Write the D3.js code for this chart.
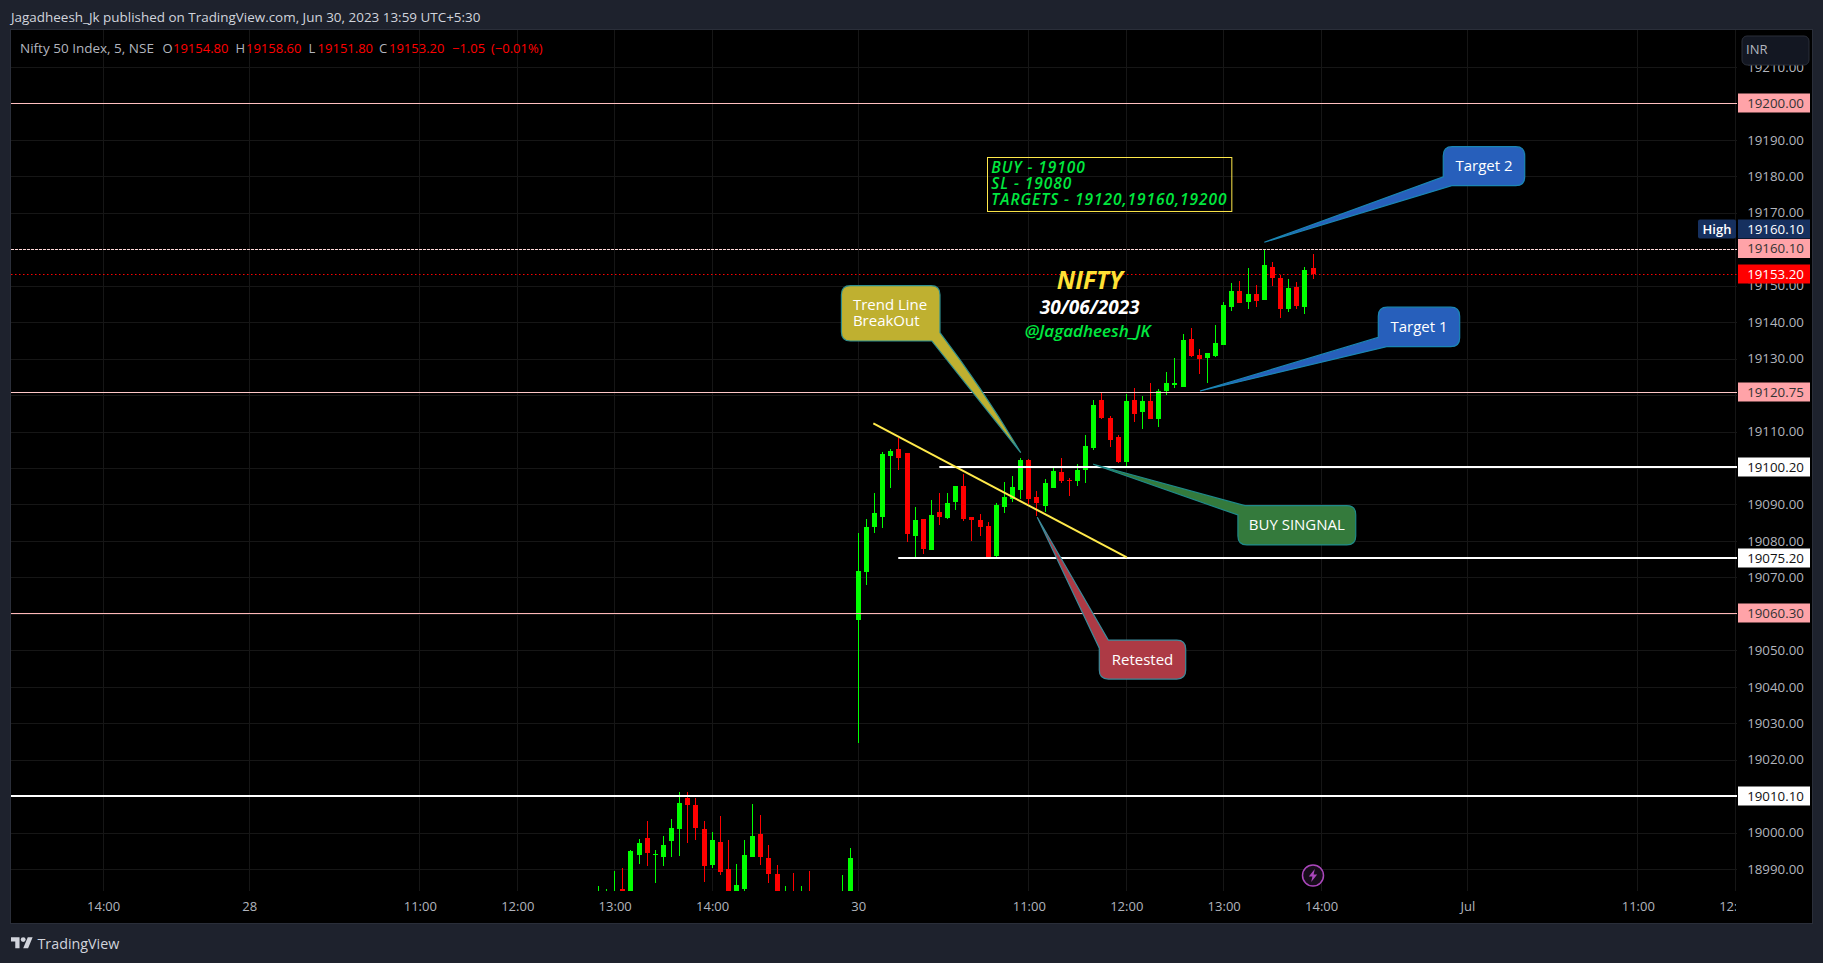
<!DOCTYPE html>
<html>
<head>
<meta charset="utf-8">
<style>
html,body{margin:0;padding:0;background:#1e222d;overflow:hidden}
svg{display:block}
text{font-family:"Open Sans",sans-serif}
</style>
<script src="https://cdnjs.cloudflare.com/ajax/libs/d3/7.8.5/d3.min.js"></script>
</head>
<body>
<svg id="c" width="1823" height="963"></svg>
<script>
// ---------- data: consecutive 5-minute bars, first bar index is firstBar (0 = 30 Jun 09:15) ----------
const firstBar = -32;
const opens = [18980,18979,18975,18984.56,18978,18993.88,18998.54,18993.88,18993.33,18997.72,19001.01,19009.51,19007.59,19001.01,18991.14,18997.45,18990.04,18981,18984.56,18993.33,18999.64,18993.06,18988.67,18979,18983,18978,18982,18980,18979,18979,18978,18980,
19058.3,19071.5,19083.91,19086.66,19103.38,19105.21,19104.1,19081.44,19086.0,19077.61,19087.93,19086.29,19090.77,19095.06,19086.56,19085.74,19084.09,19075.96,19089.3,19091.5,19093.97,19102.19,19092.05,19089.58,19094.51,19098.9,19096.71,19096.43,19099.45,19105.39,19118.65,19113.71,19108.59,19101.74,19118.65,19115.36,19118.37,19113.44,19121.11,19122.76,19122.21,19135.37,19130.98,19130.16,19130.71,19133.73,19144.15,19148.53,19145.52,19147.71,19146.07,19155.11,19152.1,19143.6,19149.63,19144.15,19154.8];
const highs = [18985.38,18984.65,18989.49,18990.32,18995.25,18998.27,19003.2,18995.25,18999.09,19003.75,19011.16,19011.16,19009.51,19003.2,19000.19,19004.57,18997.99,18991.41,18997.99,19007.87,19004.85,18996.62,18991.14,18985.38,18988.95,18985.38,18989.49,18982,18981,18981,18988.4,18995.8,
19082.2,19086,19093.05,19104.48,19105.12,19108.13,19104.1,19089.21,19086.01,19091.22,19093.05,19093.05,19095.06,19098.35,19086.56,19087.39,19085.19,19090.31,19096.16,19097.8,19102.74,19102.47,19093.69,19096.98,19100.55,19102.74,19097.26,19101.1,19109.05,19118.65,19120.75,19114.26,19109.05,19120.29,19121.84,19119.74,19123.22,19121.57,19126.23,19130.16,19136.74,19138.39,19132.63,19131.53,19139.21,19145.52,19150.64,19151.28,19154.84,19150.18,19160.1,19156.49,19152.92,19151.82,19151,19155.11,19158.6];
const lows = [18978,18977,18973,18979,18976,18991.41,18990.86,18986.2,18990.86,18993.33,18993.61,18997.17,18997.99,18986.48,18990.32,18988.4,18978,18979,18983,18993.33,18991.14,18986.2,18978,18977,18976,18976,18975,18976,18975,18974,18976,18978,
19024.6,19067.9,19082.27,19083.64,19094.61,19099.45,19079.8,19075.69,19076.51,19077.61,19084.37,19086,19088.48,19085.56,19080.07,19081.44,19075.32,19075.6,19087.66,19090.77,19091.5,19090.13,19086.84,19087.93,19094.51,19095.89,19092.32,19095.06,19095.89,19104.93,19113.34,19105.85,19101.28,19100.37,19112.7,19110.69,19113.44,19111.33,19120.02,19122.03,19122.21,19130.44,19125.78,19123.31,19130.44,19133.73,19143.05,19145.24,19143.6,19144.15,19146.07,19149.9,19141.13,19142.78,19143.6,19142.23,19151.8];
const closes = [18983,18982,18981,18982,18994.98,18997.17,18994.43,18994.16,18996.62,19001.28,19008.14,19007.59,19001.28,18990.86,18997.99,18989.22,18980,18985.65,18993.88,18999.09,18993.33,18988.67,18980,18982,18979,18981,18978,18977,18976,18977,18982,18993.06,
19071.7,19083.8,19087.66,19103.84,19104.66,19102.83,19081.99,19085.74,19077.88,19087.11,19086.56,19090.4,19095.06,19086.01,19085.74,19083.82,19075.32,19089.85,19092.05,19094.79,19102.19,19091.5,19090.4,19095.89,19099.18,19096.43,19096.43,19099.45,19106.03,19117.28,19113.71,19107.68,19101.74,19118.37,19114.81,19118.37,19113.44,19121.11,19123.31,19123.31,19135.1,19130.71,19129.89,19131.53,19134.28,19144.69,19148.53,19145.24,19147.71,19145.79,19155.66,19152.1,19143.6,19149.36,19144.42,19154.29,19153.2];

const priceTicks = [19210,19190,19180,19170,19160,19150,19140,19130,19120,19110,19100,19090,19080,19070,19060,19050,19040,19030,19020,19010,19000,18990];
const gridPrices = [19210,19200,19190,19180,19170,19160,19150,19140,19130,19120,19110,19100,19090,19080,19070,19060,19050,19040,19030,19020,19010,19000,18990];
const timeTickBars = [-93,-75,-54,-42,-30,-18,0,21,33,45,57,75,96,108];
const timeTickNames = ["14:00","28","11:00","12:00","13:00","14:00","30","11:00","12:00","13:00","14:00","Jul","11:00","12:00"];

const levelNames  = ["r200","r160","r120","r060","w100","w075","w010"];
const levelPrices = [19200,19160.1,19120.75,19060.3,19100.2,19075.2,19010.1];
const levelStarts = [null,null,null,null,9.98,4.92,null];
const trendBars   = [1.85,33.07];
const trendPrices = [19112.2,19075.5];
const noteLines   = ["BUY - 19100","SL - 19080","TARGETS - 19120,19160,19200"];
const legendValues = ["19154.80","19158.60","19151.80","19153.20"];
const legendNames  = ["O","H","L","C"];

// callouts, anchored in bar / price terms
const callouts = [
 {lines:["Trend Line","BreakOut"],x0:-2.08,x1:10.06,p0:19150.0,p1:19134.82,tip:[20.0,19104.2],corner:"BR",bb:9.05,bp:19137.1,fill:"#bfb030",stroke:"#2f8f8f",align:"left"},
 {lines:["BUY SINGNAL"],x0:46.75,x1:61.26,p0:19089.66,p1:19078.9,tip:[28.93,19101.02],corner:"TL",bb:47.62,bp:19087.1,fill:"#347a3c",stroke:"#1f8a8a",align:"middle"},
 {lines:["Retested"],x0:29.68,x1:40.32,p0:19052.8,p1:19042.1,tip:[22.04,19086.5],corner:"TL",bb:30.79,bp:19050.6,fill:"#ad3a45",stroke:"#3c8a9a",align:"middle"},
 {lines:["Target 2"],x0:72.04,x1:82.07,p0:19188.1,p1:19177.4,tip:[50.0,19161.9],corner:"BL",bb:73.08,bp:19179.87,fill:"#275fbb",stroke:"#1b86b4",align:"middle"},
 {lines:["Target 1"],x0:64.04,x1:74.06,p0:19144.1,p1:19133.26,tip:[42.08,19121.1],corner:"BL",bb:65.07,bp:19135.8,fill:"#275fbb",stroke:"#1b86b4",align:"middle"}
];

// ---------- scales ----------
const L=11,R=1737,T=30,B=891,AX=1812,BOT=923;
const x = d3.scaleLinear().domain([0,75]).range([858.3,1467.3]);
const y = d3.scaleLinear().domain([19220.1,18984.0]).range([T,B]);
const cx = b => Math.floor(x(b));
const cy = p => Math.round(y(p));

const svg = d3.select("#c");
const defs = svg.append("defs");
defs.append("clipPath").attr("id","pane").append("rect").attr("x",L).attr("y",T).attr("width",R-L).attr("height",B-T);
defs.append("clipPath").attr("id","timeclip").append("rect").attr("x",L).attr("y",B).attr("width",R-L-1).attr("height",BOT-B);

// frame
svg.append("rect").attr("width",1823).attr("height",963).attr("fill","#1e222d");
svg.append("rect").attr("x",L-0.5).attr("y",T-0.5).attr("width",AX-L+1).attr("height",BOT-T+1).attr("fill","#000").attr("stroke","#2a2e39");

const pane = svg.append("g").attr("clip-path","url(#pane)");

// grid
pane.append("g").selectAll("rect").data(gridPrices).join("rect")
  .attr("x",L).attr("width",R-L).attr("y",d=>cy(d)).attr("height",1).attr("fill","#161616");
pane.append("g").selectAll("rect").data(timeTickBars).join("rect")
  .attr("y",T).attr("height",B-T).attr("x",d=>cx(d)).attr("width",1).attr("fill","#161616");

// candles
const bars = d3.range(opens.length).map(i=>({b:firstBar+i,o:opens[i],h:highs[i],l:lows[i],c:closes[i]}));
const colorOf = d=>d.c>=d.o?"#00ff00":"#ff0000";

// last price line (dotted, below candles)
pane.append("line").attr("x1",L).attr("x2",R).attr("y1",cy(19153.2)+.5).attr("y2",cy(19153.2)+.5)
  .attr("stroke","#ff0000").attr("stroke-dasharray","1.5 2.5");

const cg = pane.append("g");
cg.selectAll("rect.w").data(bars).join("rect").attr("class","w")
  .attr("x",d=>cx(d.b)).attr("width",1)
  .attr("y",d=>cy(d.h)).attr("height",d=>Math.max(1,cy(d.l)-cy(d.h))).attr("fill",colorOf);
cg.selectAll("rect.b").data(bars).join("rect").attr("class","b")
  .attr("x",d=>cx(d.b)-2).attr("width",5)
  .attr("y",d=>cy(Math.max(d.o,d.c)))
  .attr("height",d=>Math.max(1,cy(Math.min(d.o,d.c))-cy(Math.max(d.o,d.c))))
  .attr("fill",colorOf);

// horizontal levels
const levelStyle = {
  r200:{c:"#ffc0c0",w:1},r160:{c:"#ffd9d9",w:1,dash:"3 1"},r120:{c:"#ffc8c8",w:1},r060:{c:"#ffb8b8",w:1},
  w100:{c:"#ffffff",w:2},w075:{c:"#ffffff",w:2},w010:{c:"#ffffff",w:2}
};
pane.append("g").selectAll("line").data(levelNames).join("line")
  .each(function(n,i){
    const s=levelStyle[n], yy=cy(levelPrices[i])+(s.w===2?0:.5);
    d3.select(this).attr("x1",levelStarts[i]===null?L:x(levelStarts[i])).attr("x2",R)
      .attr("y1",yy).attr("y2",yy).attr("stroke",s.c).attr("stroke-width",s.w)
      .attr("stroke-dasharray",s.dash||null);
  });

// trend line
pane.append("path").datum(trendBars.map((b,i)=>[b,trendPrices[i]]))
  .attr("d",d3.line().x(d=>x(d[0])).y(d=>y(d[1])))
  .attr("stroke","#ffe94a").attr("stroke-width",2).attr("fill","none");

// note box
pane.append("rect").attr("x",Math.round(x(15.89))+.5).attr("y",cy(19185.2)+.5)
  .attr("width",x(45.98)-x(15.89)).attr("height",y(19170.4)-y(19185.2))
  .attr("fill","none").attr("stroke","#ffe94a");
const noteText = pane.append("text")
  .attr("fill","#00e83f").attr("font-size",15.5).attr("font-style","italic").attr("font-weight",600)
  .attr("letter-spacing",0.95);
noteText.selectAll("tspan").data(noteLines).join("tspan")
  .attr("x",x(15.89)+4).attr("y",(d,i)=>y(19181.1)+0.7+i*16).text(d=>d);

// centre titles
pane.append("text").attr("x",x(28.5)).attr("y",y(19148.8)-1).attr("text-anchor","middle")
  .attr("fill","#ffe135").attr("font-size",24.5).attr("font-style","italic").attr("font-weight",700).text("NIFTY");
pane.append("text").attr("x",x(28.5)).attr("y",y(19142.2)).attr("text-anchor","middle")
  .attr("fill","#fff").attr("font-size",19).attr("font-style","italic").attr("font-weight",700).text("30/06/2023");
pane.append("text").attr("x",x(28.25)).attr("y",y(19136)).attr("text-anchor","middle")
  .attr("fill","#00e83f").attr("font-size",17).attr("font-style","italic").attr("font-weight",600).text("@Jagadheesh_JK");

// callouts
function calloutPath(a){
  const X0=x(a.x0),X1=x(a.x1),Y0=y(a.p0),Y1=y(a.p1),r=9;
  const tx=x(a.tip[0]),ty=y(a.tip[1]),bx=x(a.bb),by=y(a.bp);
  const p=d3.path();
  const mid=(u,v,k)=>u+(v-u)*k;
  p.moveTo(X0+r+ (a.corner==="TL"?(bx-X0):0),Y0);
  p.lineTo(X1-r,Y0); p.quadraticCurveTo(X1,Y0,X1,Y0+r);
  if(a.corner==="BR"){
    p.lineTo(X1,by);
    p.quadraticCurveTo(mid(X1,tx,.5)+3,mid(by,ty,.5)-3,tx,ty);
    p.quadraticCurveTo(mid(bx,tx,.5),mid(Y1,ty,.5),bx,Y1);
    p.lineTo(X0+r,Y1);
  } else {
    p.lineTo(X1,Y1-r); p.quadraticCurveTo(X1,Y1,X1-r,Y1);
  }
  if(a.corner==="BL"){
    p.lineTo(bx,Y1);
    p.quadraticCurveTo(mid(bx,tx,.5),mid(Y1,ty,.5),tx,ty);
    p.quadraticCurveTo(mid(X0,tx,.5),mid(by,ty,.5),X0,by);
  } else {
    if(a.corner!=="BR") p.lineTo(X0+r,Y1);
    p.quadraticCurveTo(X0,Y1,X0,Y1-r);
  }
  if(a.corner==="TL"){
    p.lineTo(X0,by);
    p.quadraticCurveTo(mid(X0,tx,.5),mid(by,ty,.5),tx,ty);
    p.quadraticCurveTo(mid(bx,tx,.5),mid(Y0,ty,.5),bx,Y0);
  } else {
    p.lineTo(X0,Y0+r); p.quadraticCurveTo(X0,Y0,X0+r,Y0);
  }
  p.closePath();
  return p.toString();
}
const cgp = pane.append("g").selectAll("g").data(callouts).join("g");
cgp.append("path").attr("d",calloutPath).attr("fill",d=>d.fill).attr("stroke",d=>d.stroke).attr("stroke-width",1.2);
cgp.each(function(a){
  const g=d3.select(this), X0=x(a.x0),X1=x(a.x1),Y0=y(a.p0),Y1=y(a.p1);
  const n=a.lines.length, cyy=(Y0+Y1)/2;
  const t=g.append("text").attr("text-anchor",a.align==="left"?"start":"middle")
     .attr("fill","#fff").attr("font-size",15);
  a.lines.forEach((s,i)=>{
    t.append("tspan").attr("x",a.align==="left"?X0+11.5:(X0+X1)/2)
     .attr("y",cyy+(i-(n-1)/2)*16+5).text(s);
  });
});

// axes via d3
const axisGray="#b2b5be";
const rightAxis = d3.axisRight(y).tickValues(priceTicks).tickFormat(d3.format(".2f")).tickSize(0).tickPadding(0);
const ra = svg.append("g").attr("transform",`translate(${R},0)`).call(rightAxis);
ra.select(".domain").remove();
ra.selectAll("text").attr("x",38.5).attr("text-anchor","middle").attr("fill",axisGray).attr("font-size",13.3).attr("font-family",'"Open Sans",sans-serif');

const bottomAxis = d3.axisBottom(x).tickValues(timeTickBars).tickFormat(d=>timeTickNames[timeTickBars.indexOf(d)]).tickSize(0).tickPadding(0);
const ba = svg.append("g").attr("clip-path","url(#timeclip)").append("g").attr("transform",`translate(0,${B})`).call(bottomAxis);
ba.select(".domain").remove();
ba.selectAll("text").attr("y",11).attr("fill",axisGray).attr("font-size",13).attr("font-family",'"Open Sans",sans-serif');

// price labels
const tags = [
 {p:19200,t:"19200.00",bg:"#ffa3a8",fg:"#333"},
 {p:19160.1,t:"19160.10",bg:"#ffa3a8",fg:"#333"},
 {p:19160.1,t:"19160.10",bg:"#16305f",fg:"#fff",high:true},
 {p:19153.2,t:"19153.20",bg:"#ff0000",fg:"#fff"},
 {p:19120.75,t:"19120.75",bg:"#ffa3a8",fg:"#333"},
 {p:19100.2,t:"19100.20",bg:"#ffffff",fg:"#111"},
 {p:19075.2,t:"19075.20",bg:"#ffffff",fg:"#111"},
 {p:19060.3,t:"19060.30",bg:"#ffa3a8",fg:"#333"},
 {p:19010.1,t:"19010.10",bg:"#ffffff",fg:"#111"}
];
const tagG = svg.append("g").selectAll("g").data(tags).join("g")
  .attr("transform",d=>{
    const c=cy(d.p);
    if(d.high) return `translate(${R+1},${229})`;
    if(d.p===19160.1) return `translate(${R+1},${248.5})`;
    return `translate(${R+1},${c})`;
  });
tagG.append("rect").attr("x",0).attr("y",-9.5).attr("width",72).attr("height",19).attr("fill",d=>d.bg);
tagG.append("text").attr("x",37.5).attr("y",4.5).attr("text-anchor","middle").attr("fill",d=>d.fg).attr("font-size",13.3).text(d=>d.t);

// "High" tag
svg.append("rect").attr("x",1698).attr("y",219.5).attr("width",38).attr("height",19).attr("rx",2).attr("fill","#16305f");
svg.append("text").attr("x",1717).attr("y",234).attr("text-anchor","middle").attr("fill","#fff").attr("font-size",13).attr("font-weight",600).text("High");

// INR button
svg.append("rect").attr("x",1742).attr("y",36).attr("width",67).attr("height",29).attr("rx",5).attr("fill","#131722").attr("stroke","#2a2e39");
svg.append("text").attr("x",1746).attr("y",54).attr("fill",axisGray).attr("font-size",13).text("INR");

// header
svg.append("text").attr("x",11).attr("y",21.5).attr("fill","#d1d4dc").attr("font-size",13.45)
  .text("Jagadheesh_Jk published on TradingView.com, Jun 30, 2023 13:59 UTC+5:30");

// legend
svg.append("text").attr("x",20).attr("y",53).attr("fill",axisGray).attr("font-size",13.5).text("Nifty 50 Index, 5, NSE");
const legNameX=[162.5,235.5,308.5,379], legValX=[173,246,317.6,389];
legendNames.forEach((n,i)=>{
  svg.append("text").attr("x",legNameX[i]).attr("y",53).attr("fill",axisGray).attr("font-size",13).text(n);
  svg.append("text").attr("x",legValX[i]).attr("y",53).attr("fill","#ff0000").attr("font-size",13).text(legendValues[i]);
});
svg.append("text").attr("x",452).attr("y",53).attr("fill","#ff0000").attr("font-size",13).text("−1.05");
svg.append("text").attr("x",491).attr("y",53).attr("fill","#ff0000").attr("font-size",13).text("(−0.01%)");

// lightning icon
const icon = svg.append("g").attr("transform","translate(1313,875.5)");
icon.append("circle").attr("r",10.5).attr("fill","#160c1a").attr("stroke","#ab47bc").attr("stroke-width",1.5);
icon.append("path").attr("d","M1.8,-6.5 L-4.2,1 L-0.6,1 L-1.8,6.5 L4.2,-1 L0.6,-1 Z").attr("fill","#ab47bc");

// TradingView logo
const logo = svg.append("g").attr("transform","translate(11,933.5) scale(0.61)").attr("fill","#d1d4dc");
logo.append("path").attr("d","M14 24H7V13H0V6h14v18zM28 24h-8l7.5-18h8L28 24z");
logo.append("circle").attr("cx",20).attr("cy",10).attr("r",4);
svg.append("text").attr("x",37.5).attr("y",948.5).attr("fill","#d1d4dc").attr("font-size",14.3).text("TradingView");
</script>
</body>
</html>
